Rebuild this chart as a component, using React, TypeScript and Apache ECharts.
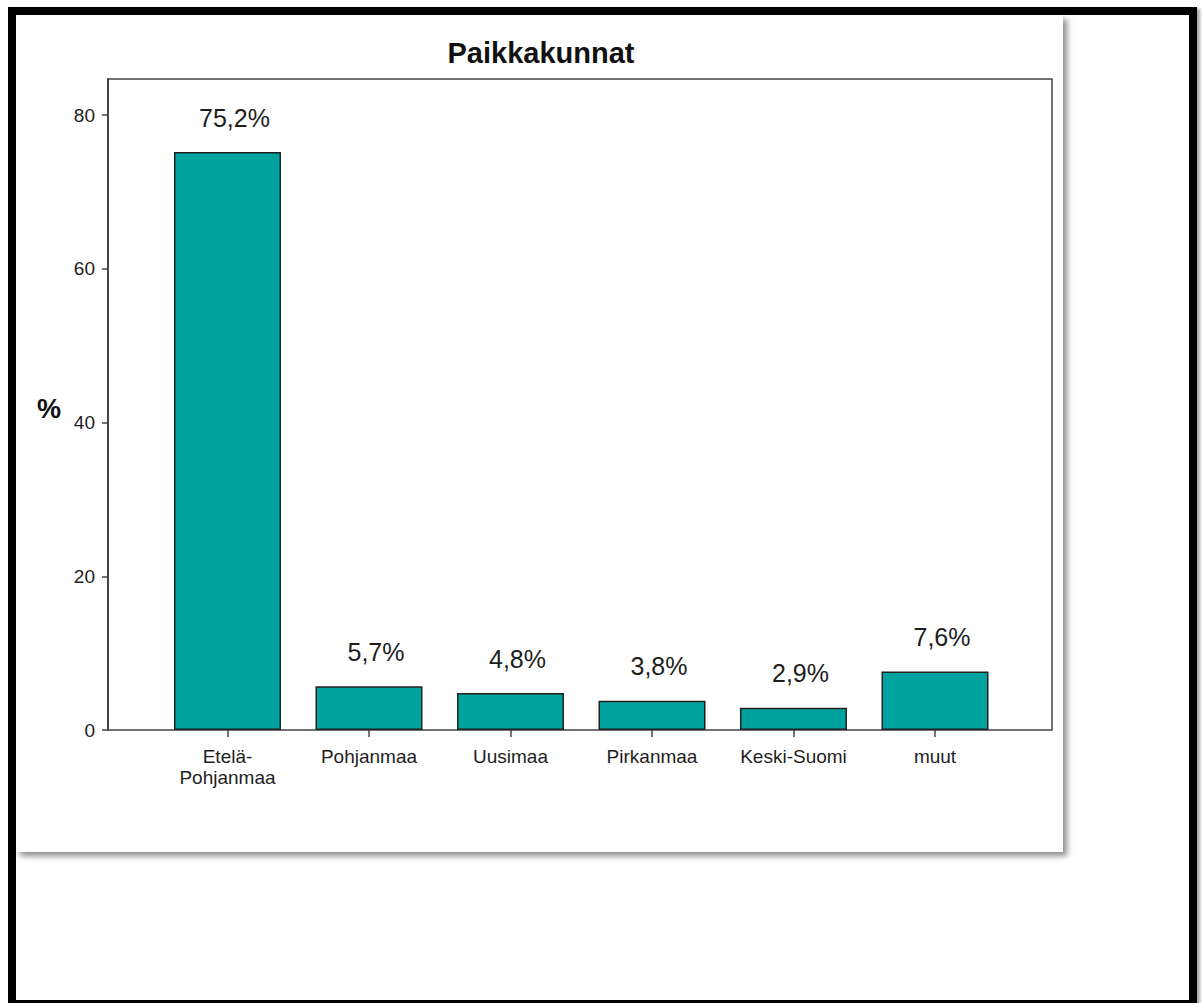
import React, { useEffect, useRef } from "react";
import * as echarts from "echarts";

const categories = ["Etelä-\nPohjanmaa", "Pohjanmaa", "Uusimaa", "Pirkanmaa", "Keski-Suomi", "muut"];
const percentValues = [75.2, 5.7, 4.8, 3.8, 2.9, 7.6];
const yTicks = [0, 20, 40, 60, 80];
const chartTitle = "Paikkakunnat";
const yName = "%";

const FONT = 'Arial, "Liberation Sans", sans-serif';
const TEXT = "#1e1e1e";
const LINE = "#444444";
const Y_MAX = 84.7;

export default function App() {
  const ref = useRef<HTMLDivElement>(null);

  useEffect(() => {
    if (!ref.current) return;
    const chart = echarts.init(ref.current, null, { renderer: "svg" });
    chart.setOption({
      animation: false,
      backgroundColor: "transparent",
      title: [
        {
          text: chartTitle,
          left: 541,
          top: 38,
          padding: 0,
          textAlign: "center",
          textStyle: { fontFamily: FONT, fontSize: 29, fontWeight: "bold", color: "#111" },
        },
        {
          text: yName,
          left: 37,
          top: 395,
          padding: 0,
          textStyle: { fontFamily: FONT, fontSize: 27, fontWeight: "bold", color: "#111" },
        },
      ],
      grid: [
        {
          left: 108,
          top: 79,
          width: 944,
          height: 651,
          show: true,
          backgroundColor: "transparent",
          borderColor: LINE,
          borderWidth: 1.5,
        },
        { left: 156.75, top: 79, width: 849, height: 651 },
      ],
      xAxis: [
        { type: "value", gridIndex: 0, min: 0, max: 1, show: false },
        {
          type: "category",
          gridIndex: 1,
          data: categories,
          axisLine: { show: false },
          axisTick: { show: true, alignWithLabel: true, length: 7, lineStyle: { color: LINE, width: 1.5 } },
          axisLabel: { fontFamily: FONT, fontSize: 19, color: TEXT, margin: 16, lineHeight: 21 },
          splitLine: { show: false },
        },
      ],
      yAxis: [
        {
          type: "value",
          gridIndex: 0,
          min: 0,
          max: Y_MAX,
          interval: 20,
          axisLine: { show: true, lineStyle: { color: LINE, width: 2 } },
          axisTick: { show: true, length: 6, customValues: yTicks, lineStyle: { color: LINE, width: 1.5 } },
          axisLabel: {
            fontFamily: FONT,
            fontSize: 19,
            color: TEXT,
            margin: 13,
            customValues: yTicks,
            formatter: (v: number) => (yTicks.includes(v) ? String(v) : ""),
          },
          splitLine: { show: false },
        },
        { type: "value", gridIndex: 1, min: 0, max: Y_MAX, show: false },
      ],
      series: [
        {
          type: "bar",
          xAxisIndex: 1,
          yAxisIndex: 1,
          data: percentValues,
          barWidth: 107,
          itemStyle: { color: "#00a39e", borderColor: "#202020", borderWidth: 1.5 },
          label: {
            show: true,
            position: "top",
            distance: 22,
            offset: [7, 0],
            fontFamily: FONT,
            fontSize: 25,
            color: TEXT,
            formatter: (p: any) => p.value.toFixed(1).replace(".", ",") + "%",
          },
        },
      ],
    });
    return () => chart.dispose();
  }, []);

  return (
    <div style={{ position: "fixed", left: 0, top: 0, width: 1202, height: 1003, background: "#ffffff", overflow: "hidden" }}>
      <div
        style={{
          position: "absolute",
          left: 8,
          top: 7,
          width: 1189,
          height: 1001,
          boxSizing: "border-box",
          border: "8px solid #000",
          boxShadow: "3px 2px 3px rgba(0,0,0,0.35)",
          background: "#ffffff",
        }}
      />
      <div
        style={{
          position: "absolute",
          left: 16,
          top: 15,
          width: 1047,
          height: 837,
          background: "#ffffff",
          boxShadow: "4px 4px 6px rgba(0,0,0,0.45)",
        }}
      />
      <div ref={ref} style={{ position: "absolute", left: 0, top: 0, width: 1202, height: 1003 }} />
    </div>
  );
}
